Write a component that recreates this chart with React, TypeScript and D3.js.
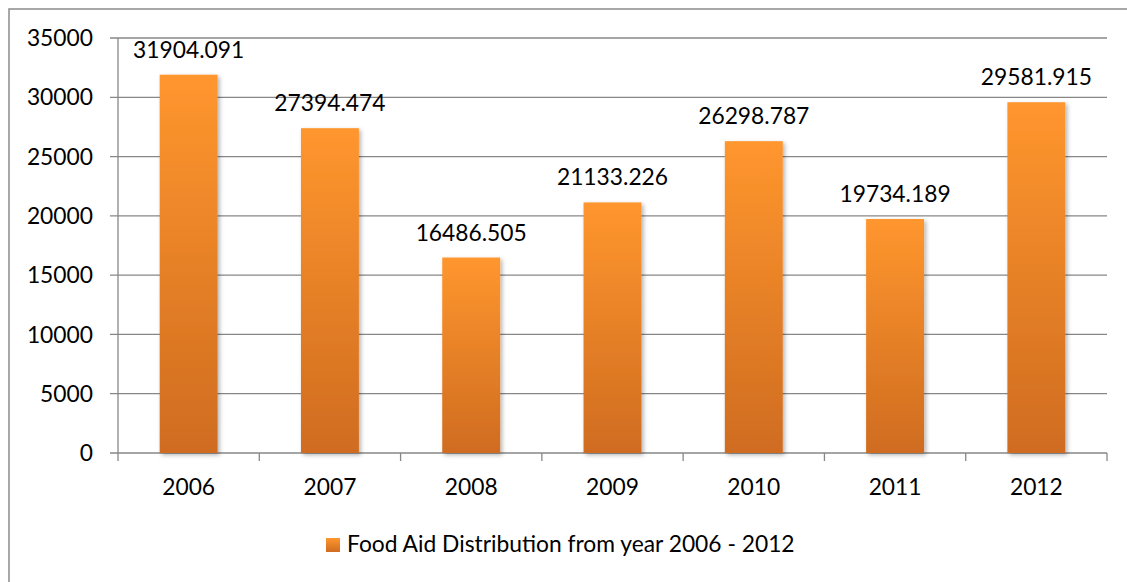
import React from "react";
import * as d3 from "d3";

const categories = ["2006", "2007", "2008", "2009", "2010", "2011", "2012"];
const values = [31904.091, 27394.474, 16486.505, 21133.226, 26298.787, 19734.189, 29581.915];
const labels = ["31904.091", "27394.474", "16486.505", "21133.226", "26298.787", "19734.189", "29581.915"];
const yTicks = [0, 5000, 10000, 15000, 20000, 25000, 30000, 35000];
const seriesName = "Food Aid Distribution from year 2006 - 2012";

export default function App() {
  const W = 1127, H = 582;
  const left = 118, right = 1107, top = 38, bottom = 453;
  const x = d3.scaleBand<string>().domain(categories).range([left, right]).paddingInner(0.59).paddingOuter(0.295);
  const xb = d3.scaleBand<string>().domain(categories).range([left, right]);
  const y = d3.scaleLinear().domain([0, 35000]).range([bottom, top]);
  const font = "Lato, 'Open Sans', sans-serif";
  const fs = 22.8;
  const grid = "#878787";
  return (
    <svg width={W} height={H} style={{ position: "absolute", left: 0, top: 0 }}>
      <defs>
        <linearGradient id="barGrad" x1="0" y1="0" x2="0" y2="1">
          <stop offset="0" stopColor="#FF962E" />
          <stop offset="1" stopColor="#CF6C20" />
        </linearGradient>
        <filter id="shadow" x="-20%" y="-5%" width="140%" height="115%">
          <feDropShadow dx="2" dy="2" stdDeviation="2" floodColor="#000" floodOpacity="0.3" />
        </filter>
      </defs>
      <rect x={0} y={0} width={W} height={H} fill="#fff" />
      <rect x={9} y={9} width={1130} height={600} fill="none" stroke="#8c8c8c" strokeWidth={1.5} />
      {yTicks.map((t) => (
        <g key={t}>
          <line x1={110} x2={right} y1={y(t)} y2={y(t)} stroke={grid} strokeWidth={1.3} />
          <text x={93} y={y(t)} dy="0.36em" textAnchor="end" fontFamily={font} fontSize={fs} fill="#000">{t}</text>
        </g>
      ))}
      <line x1={left} x2={left} y1={top} y2={bottom + 8} stroke={grid} strokeWidth={1.3} />
      {categories.map((c) => (
        <line key={"t" + c} x1={(xb(c) as number) + xb.bandwidth()} x2={(xb(c) as number) + xb.bandwidth()} y1={bottom} y2={bottom + 8} stroke={grid} strokeWidth={1.3} />
      ))}
      {categories.map((c, i) => (
        <rect key={"b" + c} x={x(c)} y={y(values[i])} width={x.bandwidth()} height={bottom - y(values[i])} fill="url(#barGrad)" filter="url(#shadow)" />
      ))}
      {categories.map((c, i) => (
        <text key={"l" + c} x={(x(c) as number) + x.bandwidth() / 2} y={y(values[i]) - 17} textAnchor="middle" fontFamily={font} fontSize={fs} fill="#000">{labels[i]}</text>
      ))}
      {categories.map((c) => (
        <text key={"x" + c} x={(xb(c) as number) + xb.bandwidth() / 2} y={495} textAnchor="middle" fontFamily={font} fontSize={fs} fill="#000">{c}</text>
      ))}
      <rect x={326} y={538} width={14} height={14} fill="url(#barGrad)" />
      <text x={347} y={552} fontFamily={font} fontSize={fs} fill="#000">{seriesName}</text>
    </svg>
  );
}
